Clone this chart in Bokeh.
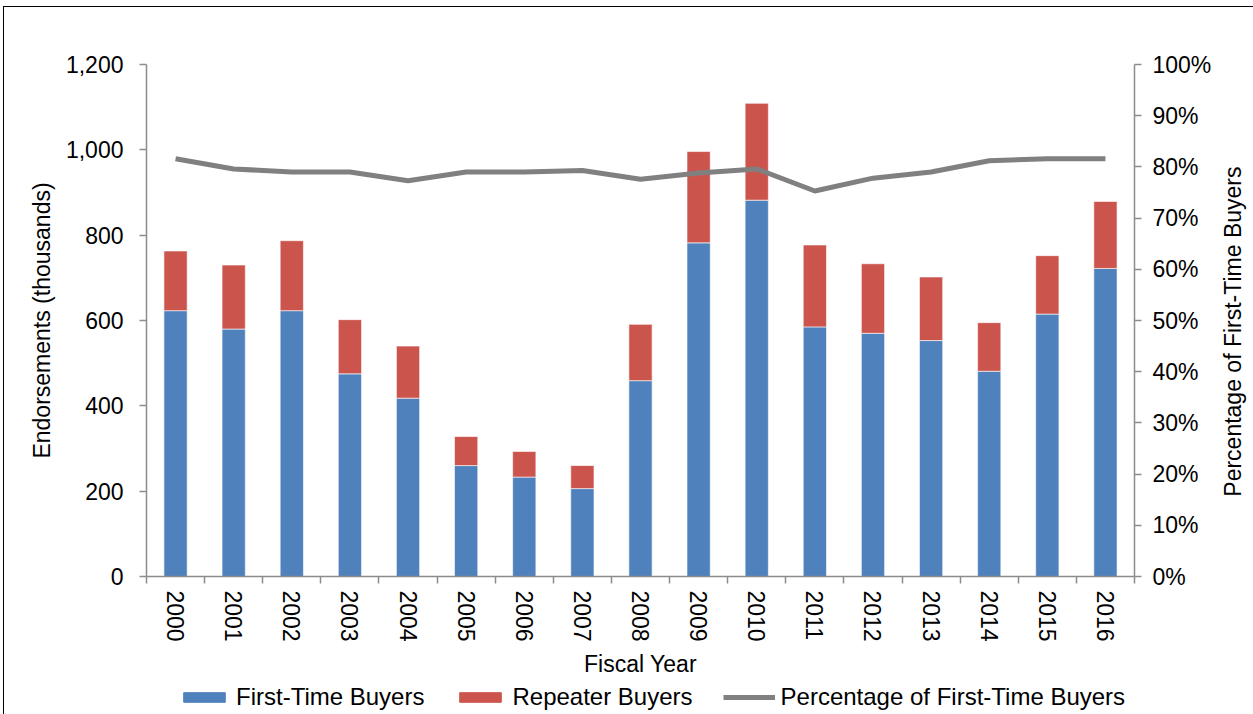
import math
from bokeh.plotting import figure
from bokeh.layouts import column, row
from bokeh.models import (Range1d, LinearAxis, FixedTicker, NumeralTickFormatter,
                          ColumnDataSource, Legend, LegendItem)
from bokeh.core.properties import value
from bokeh.embed import file_html
from bokeh.resources import INLINE

years = ["2000", "2001", "2002", "2003", "2004", "2005", "2006", "2007", "2008",
         "2009", "2010", "2011", "2012", "2013", "2014", "2015", "2016"]
first_time = [623, 580, 623, 475, 418, 260, 233, 206, 459, 782, 882, 585, 570, 553, 481, 615, 722]
repeater = [140, 150, 164, 127, 122, 68, 60, 54, 132, 214, 227, 192, 163, 149, 114, 137, 157]
pct_first = [0.816, 0.796, 0.790, 0.790, 0.773, 0.790, 0.790, 0.793, 0.776, 0.788, 0.796,
             0.753, 0.778, 0.790, 0.812, 0.816, 0.816]
series_names = ["First-Time Buyers", "Repeater Buyers", "Percentage of First-Time Buyers"]
left_title = "Endorsements (thousands)"
right_title = "Percentage of First-Time Buyers"
x_title = "Fiscal Year"

FONT = "Liberation Sans"
FS = "23px"
AXIS_GREY = "#8C8C8C"
BLUE, RED, GREY = "#4F81BD", "#CB554D", "#808080"

OX, OY = 3, 6  # outer frame offset
BL, BT, BB = 145 - OX, 63 - OY, 678 - 575
PW = 1215 - OX          # main plot width
PH = 678 - OY           # main plot height

xpos = [i + 0.5 for i in range(len(years))]
src = ColumnDataSource(dict(x=xpos, first=first_time, rep=repeater, pct=pct_first))

p = figure(width=PW, height=PH, output_backend="svg", toolbar_location=None,
           x_range=Range1d(0, len(years)), y_range=Range1d(0, 1200),
           min_border_left=BL, min_border_right=1215 - 1133, min_border_top=BT,
           min_border_bottom=BB, x_axis_location=None, y_axis_location=None)
p.outline_line_color = None
p.xgrid.visible = False
p.ygrid.visible = False
p.extra_y_ranges = {"pct": Range1d(0, 1)}

yl = LinearAxis(ticker=FixedTicker(ticks=list(range(0, 1201, 200))),
                formatter=NumeralTickFormatter(format="0,0"), axis_label=left_title)
yr = LinearAxis(y_range_name="pct", ticker=FixedTicker(ticks=[i / 10 for i in range(11)]),
                formatter=NumeralTickFormatter(format="0%"))
xl = LinearAxis(ticker=FixedTicker(ticks=xpos, minor_ticks=list(range(len(years) + 1))),
                axis_label=x_title)
xl.major_label_overrides = {x: y for x, y in zip(xpos, years)}
xl.major_label_orientation = "vertical"
xl.major_tick_line_color = None
xl.major_tick_out = 0
xl.major_tick_in = 0
xl.minor_tick_line_color = AXIS_GREY
xl.minor_tick_line_width = 1.5
xl.minor_tick_out = 7
xl.minor_tick_in = 0
xl.major_label_standoff = 7
xl.axis_label_standoff = 6
xl.axis_line_color = AXIS_GREY
xl.axis_line_width = 1.5

for ax in (yl, yr):
    ax.minor_tick_line_color = None
    ax.axis_line_color = AXIS_GREY
    ax.axis_line_width = 1.5
    ax.major_tick_line_color = AXIS_GREY
    ax.major_tick_line_width = 1.5
    ax.major_tick_out = 7
    ax.major_tick_in = 0
for ax in (yl, yr, xl):
    ax.major_label_text_font = FONT
    ax.axis_label_text_font = FONT
    ax.axis_label_text_font_style = "normal"
    ax.axis_label_text_font_size = FS
    ax.major_label_text_font_size = FS
    ax.major_label_text_color = "black"
    ax.axis_label_text_color = "black"
yl.major_label_standoff = 16
yl.axis_label_standoff = 8
yr.major_label_standoff = 11

p.add_layout(yl, "left")
p.add_layout(yr, "right")
p.add_layout(xl, "below")

p.vbar_stack(["first", "rep"], x="x", width=0.4, source=src,
             color=[BLUE, RED], line_color="white", line_width=0.6)
p.line("x", "pct", source=src, y_range_name="pct", line_color=GREY, line_width=5)

# right-hand axis title, reading bottom to top
RW = 1253 - 1215
rf = figure(width=RW, height=PH, output_backend="svg", toolbar_location=None,
            x_range=Range1d(0, RW), y_range=p.y_range,
            min_border_left=0, min_border_right=0, min_border_top=BT, min_border_bottom=BB,
            x_axis_location=None, y_axis_location=None)
rf.outline_line_color = None
rf.xgrid.visible = False
rf.ygrid.visible = False
rsrc = ColumnDataSource(dict(x=[16], y=[574], t=[right_title]))
rf.text(x="x", y="y", text="t", source=rsrc, angle=math.pi / 2, text_align="center",
        text_baseline="middle", text_font=value(FONT), text_font_size=FS, text_color="black")

# legend strip below the chart
lf = figure(width=1253 - OX, height=36, output_backend="svg", toolbar_location=None,
            x_range=Range1d(0, 1), y_range=Range1d(0, 1),
            min_border_left=BL, min_border_right=0, min_border_top=0, min_border_bottom=0,
            x_axis_location=None, y_axis_location=None)
lf.outline_line_color = None
lf.xgrid.visible = False
lf.ygrid.visible = False
off = ColumnDataSource(dict(x=[-10, -9], y=[-10, -10], top=[-5, -5]))
r1 = lf.vbar(x="x", top="top", width=0.1, source=off, color=BLUE)
r2 = lf.vbar(x="x", top="top", width=0.1, source=off, color=RED)
r3 = lf.line(x="x", y="y", source=off, line_color=GREY, line_width=5)

legend = Legend(items=[LegendItem(label=series_names[0], renderers=[r1]),
                       LegendItem(label=series_names[1], renderers=[r2]),
                       LegendItem(label=series_names[2], renderers=[r3])],
                orientation="horizontal", location=(177 - 145, 4))
legend.label_text_font = FONT
legend.label_text_font_size = "24px"
legend.label_text_color = "black"
legend.glyph_width = 52
legend.glyph_height = 12
legend.label_standoff = 6
legend.spacing = 30
legend.padding = 0
legend.margin = 0
legend.border_line_color = None
legend.background_fill_alpha = 0
lf.add_layout(legend, "center")

layout = column(row(p, rf, spacing=0), lf, spacing=0, margin=(OY, 0, 0, OX),
                styles={"border-top": "1px solid #000000", "border-left": "1px solid #000000"})

open("out.html", "w").write(file_html(layout, INLINE))
